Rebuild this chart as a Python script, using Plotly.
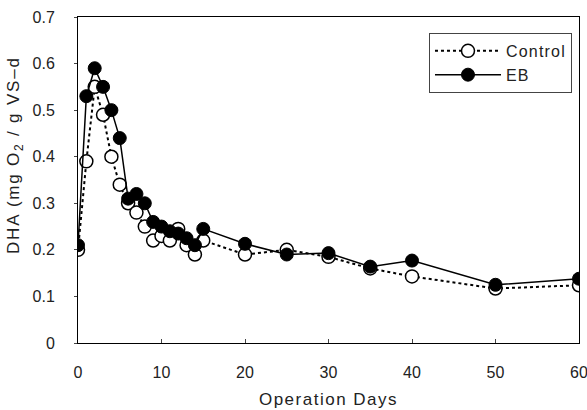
import plotly.graph_objects as go

days = [0, 1, 2, 3, 4, 5, 6, 7, 8, 9, 10, 11, 12, 13, 14, 15, 20, 25, 30, 35, 40, 50, 60]
control = [0.20, 0.39, 0.55, 0.49, 0.40, 0.34, 0.30, 0.28, 0.25, 0.22, 0.23, 0.22, 0.245,
           0.21, 0.19, 0.22, 0.19, 0.20, 0.185, 0.16, 0.143, 0.117, 0.124]
eb = [0.21, 0.53, 0.59, 0.55, 0.50, 0.44, 0.31, 0.32, 0.30, 0.26, 0.25, 0.24, 0.235,
      0.225, 0.21, 0.245, 0.213, 0.19, 0.193, 0.164, 0.177, 0.125, 0.138]

xticks = [0, 10, 20, 30, 40, 50, 60]
yticks = [0, 0.1, 0.2, 0.3, 0.4, 0.5, 0.6, 0.7]
ylabels = ["0", "0.1", "0.2", "0.3", "0.4", "0.5", "0.6", "0.7"]

def spaced(txt, px):
    return f'<span style="letter-spacing:{px}px">{txt}</span>'

fig = go.Figure()
fig.add_trace(go.Scatter(
    x=days, y=control, name=spaced("Control", 1.2), mode="lines+markers",
    line=dict(color="black", width=2, dash="dot"),
    marker=dict(symbol="circle", size=13, color="white", line=dict(color="black", width=1.5)),
))
fig.add_trace(go.Scatter(
    x=days, y=eb, name=spaced("EB", 1.2), mode="lines+markers",
    line=dict(color="black", width=1.5),
    marker=dict(symbol="circle", size=13, color="black", line=dict(color="black", width=1)),
))

font = "Liberation Sans, Arial, sans-serif"
fig.update_layout(
    width=587, height=410,
    margin=dict(l=78, r=8, t=17, b=67),
    paper_bgcolor="white", plot_bgcolor="white",
    font=dict(family=font, size=16, color="#222"),
    showlegend=True,
    legend=dict(x=0.986, y=0.951, xanchor="right", yanchor="top",
                bordercolor="#444", borderwidth=1, bgcolor="white",
                font=dict(size=16, family=font), itemwidth=66,
                tracegroupgap=0),
    xaxis=dict(range=[0, 60], tickvals=xticks, ticks="inside", ticklen=4,
               showline=True, linecolor="black", linewidth=1, mirror=True,
               showgrid=False, zeroline=False, tickfont=dict(size=16),
               ticklabelstandoff=15, ticklabeloverflow="allow", automargin=False,
               title=dict(text=spaced("Operation Days", 1.5), font=dict(size=17), standoff=12)),
    yaxis=dict(range=[0, 0.7], tickvals=yticks, ticktext=ylabels, ticks="outside", ticklen=3,
               showline=True, linecolor="black", linewidth=1, mirror=True,
               showgrid=False, zeroline=False, tickfont=dict(size=16),
               ticklabelstandoff=16, automargin=False),
    annotations=[dict(
        text=spaced("DHA (mg O<sub>2</sub> / g VS\u2013d", 1.8),
        xref="paper", yref="paper", x=-78 / 501 + 15 / 501, y=(343 - 155) / 326,
        xanchor="center", yanchor="middle", textangle=-90, showarrow=False,
        font=dict(size=17, family=font, color="#222"),
    )],
)

fig.write_html("out.html")
